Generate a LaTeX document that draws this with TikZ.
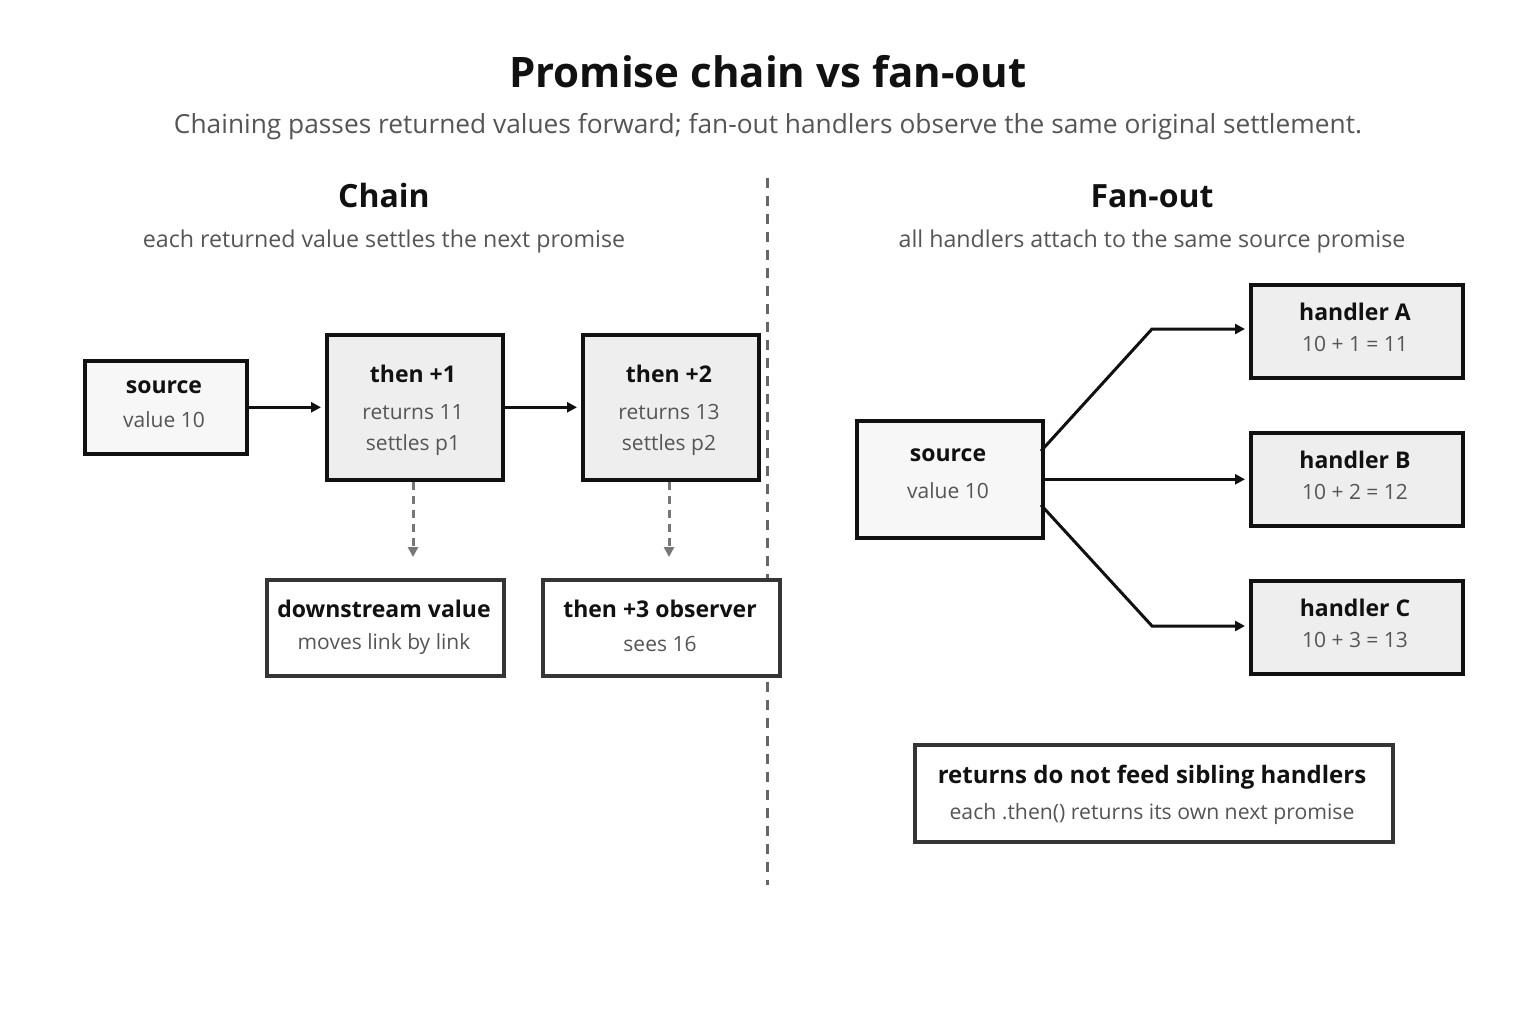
\documentclass[tikz,border=0pt]{standalone}
\usepackage{fontspec}
\setmainfont{Open Sans}
\usetikzlibrary{arrows.meta}
\definecolor{ink}{HTML}{111111}
\definecolor{muted}{HTML}{555555}
\definecolor{fillA}{HTML}{F7F7F7}
\definecolor{fillB}{HTML}{EEEEEE}
\definecolor{dashc}{HTML}{777777}
\definecolor{divc}{HTML}{666666}
\tikzset{
  box/.style={draw=ink, line width=3.6pt, inner sep=0pt, anchor=north west},
  boxlight/.style={box, draw=ink!85},
  hd/.style={font=\fontsize{23}{27}\selectfont\bfseries, text=ink, inner sep=0pt},
  tx/.style={font=\fontsize{21}{25}\selectfont, text=muted, inner sep=0pt},
  conn/.style={draw=ink, line width=3pt, -{Triangle[length=10pt,width=10pt]}, shorten >=4pt},
  dconn/.style={draw=dashc, line width=3pt, dash pattern=on 8pt off 6pt, -{Triangle[length=10pt,width=10pt]}},
}
\begin{document}
\begin{tikzpicture}[x=1pt,y=-1pt]
\useasboundingbox[fill=white] (0,0) rectangle (1536,1024);
% titles
\node[font=\fontsize{42}{48}\selectfont\bfseries, text=ink, inner sep=0pt] (title) at (768,72) {Promise chain vs fan-out};
\node[font=\fontsize{26.3}{30}\selectfont, text=muted, inner sep=0pt] (subtitle) at (768,127) {Chaining passes returned values forward; fan-out handlers observe the same original settlement.};
\node[font=\fontsize{32}{38}\selectfont\bfseries, text=ink, inner sep=0pt] (chainh) at (384,196) {Chain};
\node[font=\fontsize{23.2}{28}\selectfont, text=muted, inner sep=0pt] (chains) at (384,241) {each returned value settles the next promise};
\node[font=\fontsize{32}{38}\selectfont\bfseries, text=ink, inner sep=0pt] (fanh) at (1152,196) {Fan-out};
\node[font=\fontsize{23.2}{28}\selectfont, text=muted, inner sep=0pt] (fans) at (1152,241) {all handlers attach to the same source promise};
% divider
\coordinate (d1) at (767,178);
\coordinate (d2) at (767,885);
\draw[divc, line width=3pt, dash pattern=on 10pt off 8pt] (d1) -- (d2);
% chain boxes
\node[box, fill=fillA, minimum width=162pt, minimum height=93pt] (src) at (83,359) {};
\node[hd] (srct) at (164,387) {source};
\node[tx] (srcv) at (164,420) {value 10};
\node[box, fill=fillB, minimum width=176pt, minimum height=145pt] (t1) at (325,333) {};
\node[hd] (t1a) at (413,374) {then +1};
\node[tx] (t1b) at (413,412) {returns 11};
\node[tx] (t1c) at (413,445) {settles p1};
\node[box, fill=fillB, minimum width=176pt, minimum height=145pt] (t2) at (581,333) {};
\node[hd] (t2a) at (669,374) {then +2};
\node[tx] (t2b) at (669,412) {returns 13};
\node[tx] (t2c) at (669,445) {settles p2};
\node[boxlight, fill=white, minimum width=237pt, minimum height=96pt] (ds) at (265,578) {};
\node[hd] (dsa) at (384,609) {downstream value};
\node[tx] (dsb) at (384,644) {moves link by link};
\node[boxlight, fill=white, minimum width=237pt, minimum height=96pt] (ob) at (541,578) {};
\node[hd] (oba) at (660,609) {then +3 observer};
\node[tx] (obb) at (660,644) {sees 16};
\draw[conn] (src.east) -- (src.east -| t1.west);
\draw[conn] (t1.east |- src.east) -- (t2.west |- src.east);
\coordinate (dd1) at (413,557);
\coordinate (dd2) at (669,557);
\draw[dconn] (t1.south -| dd1) -- (dd1);
\draw[dconn] (t2.south -| dd2) -- (dd2);
% fan-out
\node[box, fill=fillA, minimum width=186pt, minimum height=117pt] (fs) at (855,419) {};
\node[hd] (fsa) at (948,455) {source};
\node[tx] (fsb) at (948,491) {value 10};
\node[box, fill=fillB, minimum width=212pt, minimum height=93pt] (ha) at (1249,283) {};
\node[hd] (haa) at (1355,312) {handler A};
\node[tx] (hab) at (1355,344) {10 + 1 = 11};
\node[box, fill=fillB, minimum width=212pt, minimum height=93pt] (hb) at (1249,431) {};
\node[hd] (hba) at (1355,460) {handler B};
\node[tx] (hbb) at (1355,492) {10 + 2 = 12};
\node[box, fill=fillB, minimum width=212pt, minimum height=93pt] (hc) at (1249,579) {};
\node[hd] (hca) at (1355,608) {handler C};
\node[tx] (hcb) at (1355,640) {10 + 3 = 13};
\coordinate (fa) at (1041,451);
\coordinate (fc) at (1041,505);
\coordinate (ka) at (1152,329);
\coordinate (kc) at (1152,626);
\draw[conn] (fa) -- (ka) -- (ka -| ha.west);
\draw[conn] (fs.east |- hb.west) -- (hb.west);
\draw[conn] (fc) -- (kc) -- (kc -| hc.west);
% note
\node[boxlight, fill=white, minimum width=478pt, minimum height=97pt] (note) at (913,743) {};
\node[font=\fontsize{24}{28}\selectfont\bfseries, text=ink, inner sep=0pt] (notea) at (1152,777) {returns do not feed sibling handlers};
\node[font=\fontsize{21.2}{25}\selectfont, text=muted, inner sep=0pt] (noteb) at (1152,814) {each .then() returns its own next promise};
\end{tikzpicture}
\end{document}
